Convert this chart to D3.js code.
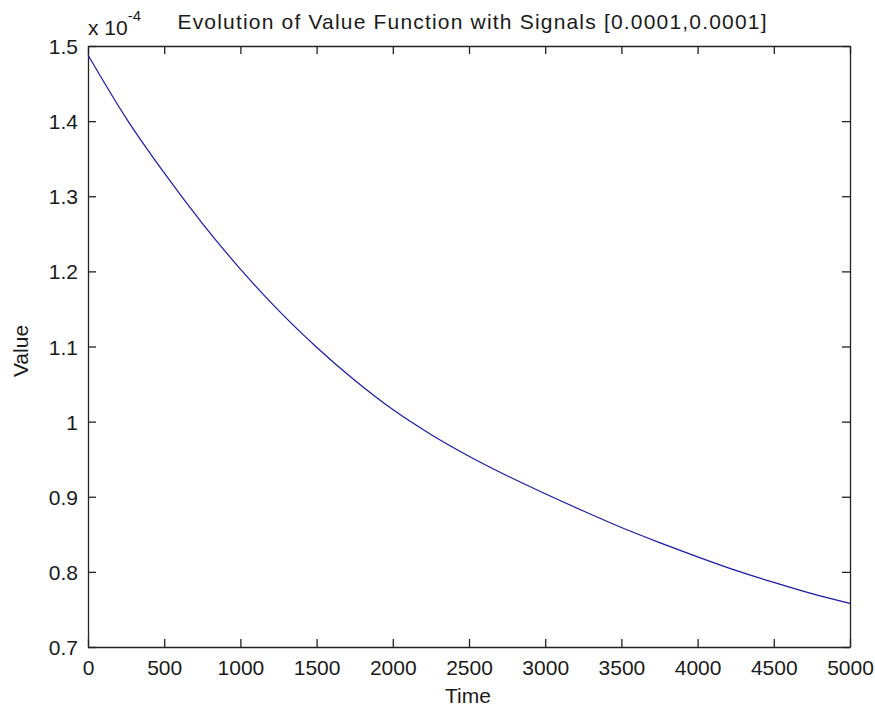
<!DOCTYPE html>
<html>
<head>
<meta charset="utf-8">
<script src="https://cdn.jsdelivr.net/npm/d3@7"></script>
<style>
  html, body { margin: 0; padding: 0; background: #fff; }
  svg text { font-family: "Liberation Sans", Arial, sans-serif; fill: #1a1a1a; }
</style>
</head>
<body>
<svg id="chart" width="875" height="710"></svg>
<script>
// Value function over time (values in units of 1e-4)
const timeSteps = [0, 250, 500, 750, 1000, 1250, 1500, 1750, 2000, 2250, 2500,
                   2750, 3000, 3250, 3500, 3750, 4000, 4250, 4500, 4750, 5000];
const valueSeries = [1.488, 1.404, 1.331, 1.264, 1.203, 1.148, 1.099, 1.055, 1.016, 0.983, 0.954,
                     0.928, 0.904, 0.881, 0.859, 0.839, 0.820, 0.802, 0.786, 0.771, 0.758];
const xTicks = [0, 500, 1000, 1500, 2000, 2500, 3000, 3500, 4000, 4500, 5000];
const yTicks = [0.7, 0.8, 0.9, 1.0, 1.1, 1.2, 1.3, 1.4, 1.5];
const titleText = "Evolution of Value Function with Signals [0.0001,0.0001]";

const svg = d3.select("#chart");
const box = { left: 88, right: 850, top: 46, bottom: 647 };

const x = d3.scaleLinear().domain([0, 5000]).range([box.left, box.right]);
const y = d3.scaleLinear().domain([0.7, 1.5]).range([box.bottom, box.top]);

const tickLen = 8;
const fs = 21;

// axes: ticks pointing inward on all four sides
const axisBottom = d3.axisBottom(x).tickValues(xTicks).tickSizeInner(-tickLen).tickSizeOuter(0)
  .tickFormat(d3.format("d")).tickPadding(0);
const axisTop = d3.axisTop(x).tickValues(xTicks).tickSizeInner(-tickLen).tickSizeOuter(0).tickFormat("");
const axisLeft = d3.axisLeft(y).tickValues(yTicks).tickSizeInner(-tickLen).tickSizeOuter(0)
  .tickFormat(d => d3.format("")(+d.toFixed(1))).tickPadding(0);
const axisRight = d3.axisRight(y).tickValues(yTicks).tickSizeInner(-tickLen).tickSizeOuter(0).tickFormat("");

function style(g) {
  g.attr("font-family", null).attr("font-size", null);
  g.select(".domain").attr("stroke", "#222").attr("stroke-width", 1.3);
  g.selectAll(".tick line").attr("stroke", "#222").attr("stroke-width", 1.3);
  g.selectAll(".tick text").attr("font-size", fs).attr("fill", "#1a1a1a");
}

svg.append("rect").attr("x", box.left).attr("y", box.top)
  .attr("width", box.right - box.left).attr("height", box.bottom - box.top).attr("fill", "#fff");

const gx = svg.append("g").attr("transform", `translate(0,${box.bottom})`).call(axisBottom).call(style);
gx.selectAll(".tick text").attr("y", 28).attr("dy", null);
svg.append("g").attr("transform", `translate(0,${box.top})`).call(axisTop).call(style);
const gy = svg.append("g").attr("transform", `translate(${box.left},0)`).call(axisLeft).call(style);
gy.selectAll(".tick text").attr("x", -10).attr("dy", "0.36em");
svg.append("g").attr("transform", `translate(${box.right},0)`).call(axisRight).call(style);

// curve
const line = d3.line()
  .x((d, i) => x(timeSteps[i]))
  .y(d => y(d))
  .curve(d3.curveMonotoneX);

svg.append("path").datum(valueSeries)
  .attr("d", line)
  .attr("fill", "none")
  .attr("stroke", "#1a1aa8")
  .attr("stroke-width", 1.2);

// exponent label
const expo = svg.append("text").attr("x", box.left).attr("y", 35).attr("font-size", 21);
expo.append("tspan").text("x 10");
expo.append("tspan").attr("dy", -14).attr("font-size", 15).text("-4");

// title
svg.append("text").attr("x", 472).attr("y", 28.5)
  .attr("text-anchor", "middle").attr("font-size", 21)
  .attr("textLength", 589).attr("lengthAdjust", "spacing").text(titleText);

// axis titles
svg.append("text").attr("x", 468).attr("y", 703)
  .attr("text-anchor", "middle").attr("font-size", fs).text("Time");
svg.append("text").attr("transform", `translate(28,351) rotate(-90)`)
  .attr("text-anchor", "middle").attr("font-size", fs).text("Value");
</script>
</body>
</html>
